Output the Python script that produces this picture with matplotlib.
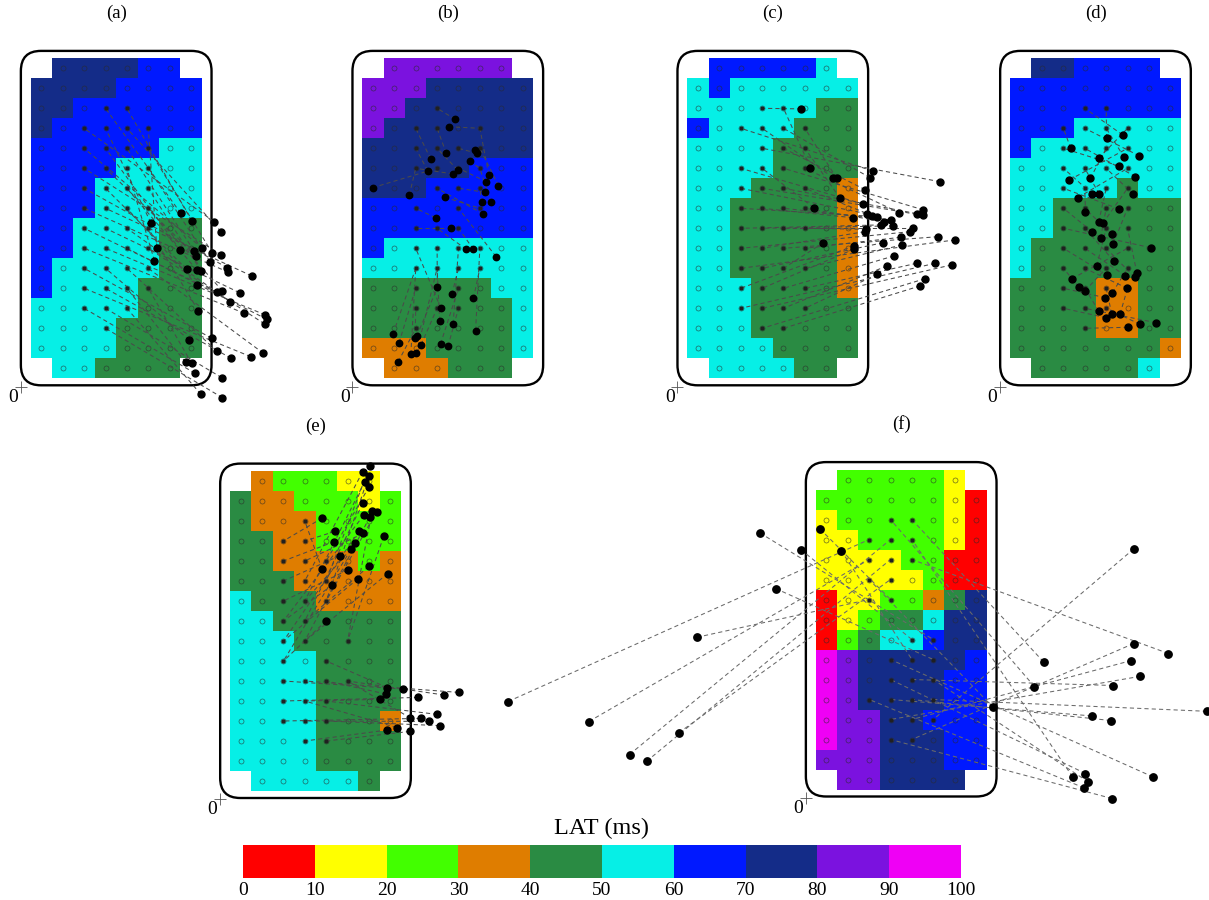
import numpy as np
import matplotlib
matplotlib.use('Agg')  # bez ekrana
import matplotlib.pyplot as plt
from matplotlib.colors import ListedColormap, BoundaryNorm
from matplotlib.patches import FancyBboxPatch
import matplotlib.cm as cm

# LAT klase (0-10, 10-20, ... 90-100 ms) i boje
lat_bounds = list(range(0, 101, 10))
lat_colors = ['#ff0000', '#ffff00', '#42ff00', '#df7d00', '#2a8b43',
              '#06efe6', '#0019ff', '#142c88', '#7b12df', '#ef00f5']

# mreze 8x16: cifra = LAT klasa, '.' = prazna celija
grid_a = [".777766.", "77776666", "77666666", "76666666", "66666655", "66665555",
          "66655555", "66655555", "66555544", "66555544", "65555544", "65555444",
          "55555444", "55554444", "55554444", ".554444."]
grid_b = [".888888.", "88877777", "88777777", "87777777", "77777777", "77777666",
          "77766666", "66666666", "66666666", "65555555", "55555555", "44444455",
          "44444445", "44444445", "33344445", ".333444."]
grid_c = [".666665.", "56555555", "55555544", "65555444", "55554444", "55554444",
          "55544443", "55444443", "55444443", "55444443", "55444443", "55544443",
          "55544444", "55544444", "55554444", ".555544."]
grid_d = [".776666.", "66666666", "66666666", "66655555", "65555555", "55555555",
          "55555455", "55444444", "55444444", "54444444", "54444444", "44443344",
          "44443344", "44443344", "44444443", ".444445."]
grid_e = [".322211.", "43322212", "43332222", "44332222", "44333323", "44433333",
          "54443333", "55444444", "55544444", "55554444", "55554444", "55554444",
          "55554443", "55554444", "55554444", ".555554."]
grid_f = [".222221.", "22222210", "12222210", "11222210", "11112200", "11111200",
          "01122347", "01244577", "02455677", "98777776", "98777766", "98777766",
          "98877666", "98877766", "88877766", ".887777."]

# elektrode (x, y u jedinicama celija) i cvorovi mreze (kolona, red) na koje se projektuju
dots_a = [(7.02, 7.75), (7.53, 8.12), (8.58, 8.17), (5.62, 8.22), (8.91, 8.67), (5.90, 9.47),
          (8.03, 9.50), (6.99, 9.58), (7.64, 9.62), (8.50, 9.75), (8.91, 9.83), (7.74, 9.88),
          (5.79, 10.12), (8.39, 10.17), (9.20, 10.47), (7.30, 10.55), (7.77, 10.58), (7.97, 10.63),
          (9.25, 10.70), (10.34, 10.88), (7.77, 11.33), (8.97, 11.63), (8.70, 11.70), (9.77, 11.72),
          (9.33, 12.17), (7.85, 12.63), (10.00, 12.75), (10.97, 12.83), (11.05, 13.05), (10.94, 13.28),
          (8.47, 14.00), (7.41, 14.08), (8.70, 14.63), (10.89, 14.75), (10.30, 14.92), (9.38, 15.00),
          (7.25, 15.20), (7.53, 15.25), (7.69, 15.75), (8.94, 15.97), (7.96, 16.80), (8.97, 16.97)]
nodes_a = [(3, 2), (4, 2), (2, 3), (3, 3), (4, 3), (5, 3), (2, 4), (3, 4), (4, 4), (5, 4),
           (2, 5), (3, 5), (4, 5), (5, 5), (2, 6), (3, 6), (4, 6), (5, 6), (2, 7), (3, 7),
           (4, 7), (5, 7), (2, 8), (3, 8), (4, 8), (5, 8), (2, 9), (3, 9), (4, 9), (5, 9),
           (2, 10), (3, 10), (4, 10), (5, 10), (2, 11), (3, 11), (4, 11), (5, 11), (2, 12), (3, 12),
           (4, 12), (3, 13)]

dots_b = [(4.35, 3.05), (4.04, 3.42), (0.48, 6.47), (3.20, 5.03), (3.06, 5.62), (3.93, 4.75),
          (4.46, 5.58), (4.24, 5.78), (5.25, 4.58), (5.36, 4.75), (5.02, 5.13), (5.92, 5.82),
          (5.81, 6.17), (6.37, 6.37), (5.75, 6.70), (5.59, 7.20), (6.02, 7.20), (5.65, 7.78),
          (2.20, 6.83), (3.87, 6.95), (3.43, 7.97), (4.16, 8.50), (4.86, 9.55), (5.20, 9.55),
          (6.26, 9.92), (3.51, 11.43), (4.19, 11.80), (5.20, 12.00), (3.68, 12.50), (3.62, 13.13),
          (4.25, 13.28), (5.30, 13.62), (1.44, 13.78), (1.72, 14.22), (2.47, 13.97), (2.55, 13.88),
          (2.75, 14.32), (2.27, 14.80), (2.53, 14.75), (3.66, 14.28), (4.01, 14.40), (1.68, 15.17)]
nodes_b = [(3, 2), (5, 3), (3, 5), (2, 3), (2, 4), (3, 3), (3, 4), (2, 5), (5, 4), (4, 4),
           (5, 5), (5, 3), (4, 5), (5, 4), (4, 6), (5, 6), (5, 5), (3, 6), (2, 5), (5, 7),
           (2, 7), (2, 8), (3, 8), (4, 8), (4, 7), (3, 9), (4, 10), (5, 10), (2, 9), (3, 10),
           (4, 9), (5, 9), (2, 10), (2, 11), (2, 12), (3, 11), (3, 12), (2, 10), (3, 10), (4, 11),
           (4, 12), (2, 13)]

dots_c = [(5.34, 2.53), (5.76, 5.47), (8.67, 5.63), (6.83, 5.97), (8.55, 5.97), (6.99, 6.00),
          (11.83, 6.17), (8.32, 6.57), (7.15, 7.00), (8.21, 7.28), (5.91, 7.47), (11.05, 7.58),
          (9.92, 7.72), (8.39, 7.77), (10.73, 7.80), (11.05, 7.83), (8.66, 7.87), (8.89, 7.92),
          (7.74, 7.97), (9.53, 8.08), (9.22, 8.17), (9.06, 8.33), (9.64, 8.38), (10.58, 8.50),
          (8.36, 8.55), (10.42, 8.67), (8.30, 8.67), (11.72, 8.92), (9.98, 8.95), (12.53, 9.08),
          (9.16, 9.22), (6.37, 9.22), (10.05, 9.33), (7.82, 9.37), (7.82, 9.53), (9.67, 9.88),
          (10.73, 10.25), (11.59, 10.25), (12.37, 10.33), (9.34, 10.38), (8.89, 10.80),
          (11.12, 11.02), (10.89, 11.38)]
nodes_c = [(3, 2), (4, 2), (2, 3), (3, 3), (4, 3), (5, 3), (3, 4), (4, 4), (5, 4), (2, 5),
           (3, 5), (4, 5), (5, 5), (2, 6), (3, 6), (4, 6), (5, 6), (2, 7), (3, 7), (4, 7),
           (5, 7), (2, 8), (3, 8), (4, 8), (5, 8), (2, 9), (3, 9), (4, 9), (5, 9), (2, 10),
           (3, 10), (4, 10), (5, 10), (2, 11), (3, 11), (4, 11), (5, 11), (2, 12), (3, 12),
           (4, 12), (5, 12), (3, 13), (4, 13)]

dots_d = [(5.27, 3.83), (4.52, 4.00), (2.84, 4.50), (6.05, 4.88), (5.34, 4.95), (4.15, 5.00),
          (5.09, 5.38), (5.87, 5.92), (3.76, 6.00), (2.78, 6.08), (3.84, 6.78), (4.17, 6.78),
          (5.77, 6.80), (3.17, 6.97), (5.09, 7.53), (3.53, 7.70), (4.15, 8.18), (4.34, 8.25),
          (3.84, 8.67), (4.76, 8.80), (4.24, 8.98), (4.82, 9.30), (6.58, 9.47), (4.85, 10.12),
          (4.06, 10.37), (5.94, 10.75), (4.56, 10.85), (5.40, 10.87), (5.83, 10.95), (2.90, 11.02),
          (3.21, 11.42), (5.49, 11.50), (3.51, 11.62), (4.79, 11.72), (4.46, 11.97), (4.15, 12.63),
          (4.76, 12.78), (5.15, 12.78), (4.49, 12.97), (6.83, 13.22), (6.08, 13.30), (5.51, 13.45)]
nodes_d = nodes_a

dots_e = [(6.55, -0.27), (6.21, 0.03), (6.49, 0.25), (6.30, 0.53), (6.51, 0.78), (6.21, 1.62),
          (6.65, 1.98), (6.86, 2.03), (6.26, 2.20), (6.54, 2.30), (4.32, 2.35), (4.91, 3.02),
          (6.04, 3.00), (6.24, 3.12), (7.19, 3.27), (4.88, 3.53), (5.83, 3.62), (5.66, 3.90),
          (5.15, 4.23), (4.31, 4.92), (5.51, 4.95), (6.49, 4.77), (7.38, 5.13), (5.99, 5.38),
          (4.79, 5.70), (4.51, 7.48),
          (7.36, 10.83), (8.08, 10.90), (10.70, 11.07), (7.30, 11.15), (10.02, 11.20), (8.80, 11.32),
          (7.04, 11.42), (9.70, 12.17), (8.44, 12.35), (8.92, 12.37), (9.33, 12.52), (9.81, 12.73),
          (7.80, 12.83), (7.36, 12.95), (8.42, 13.02)]
nodes_e = [(4, 5), (3, 5), (4, 6), (3, 6), (4, 4), (3, 7), (5, 8), (4, 6), (2, 7), (3, 8),
           (2, 3), (3, 3), (2, 8), (3, 4), (5, 8), (2, 4), (2, 9), (3, 6), (2, 5), (3, 2),
           (2, 6), (3, 7), (3, 8), (2, 8), (2, 7), (2, 9),
           (4, 9), (2, 10), (3, 10), (4, 10), (5, 10), (2, 11), (3, 11), (4, 11), (5, 10), (2, 12),
           (3, 12), (4, 12), (3, 11), (3, 13), (4, 13)]

dots_f = [(-2.61, 3.17), (-0.70, 4.00), (-1.88, 5.95), (0.20, 2.97), (1.19, 4.05), (-5.56, 8.39),
          (-14.39, 11.60), (-10.61, 12.60), (-8.71, 14.25), (-7.91, 14.59), (-6.41, 13.17),
          (14.88, 3.97), (14.88, 8.70), (16.50, 9.20), (14.77, 9.55), (15.19, 10.34), (13.91, 10.80),
          (10.66, 9.62), (10.23, 10.85), (8.30, 11.89), (18.30, 12.09), (12.91, 12.32), (13.80, 12.55),
          (15.78, 15.37), (12.02, 15.37), (12.62, 15.20), (12.75, 15.62), (12.56, 15.92), (13.86, 16.45)]
nodes_f = [(5, 8), (4, 8), (5, 9), (3, 6), (4, 9), (2, 6), (2, 3), (2, 4), (3, 3), (3, 4),
           (3, 5), (5, 12), (4, 13), (4, 4), (4, 12), (3, 12), (4, 10), (4, 2), (3, 2), (2, 5),
           (5, 11), (3, 11), (4, 11), (3, 9), (4, 3), (3, 10), (5, 10), (2, 11), (3, 13)]

W, H = 1209, 900
plt.rcParams['font.family'] = ['Liberation Serif', 'DejaVu Serif']
fig = plt.figure(figsize=(W / 100, H / 100), dpi=100)

cmap = ListedColormap(lat_colors)
norm = BoundaryNorm(lat_bounds, cmap.N)


def draw_panel(x0, y0, label, rows, dots, nodes, dot_ms, line_color):
    # x0, y0 = gornji levi ugao mreze u pikselima
    ax = fig.add_axes([x0 / W, 1 - (y0 + 320) / H, 171 / W, 320 / H])
    ax.set_xlim(0, 8)
    ax.set_ylim(16, 0)
    ax.axis('off')

    z = np.array([[np.nan if ch == '.' else int(ch) * 10 + 5 for ch in r] for r in rows])
    ax.pcolormesh(np.arange(9), np.arange(17), np.ma.masked_invalid(z),
                  cmap=cmap, norm=norm, zorder=1)
    rr, cc = np.where(~np.isnan(z))
    ax.plot(cc + 0.5, rr + 0.5, 'o', ms=3.6, mfc='none', mec='#2a2a2a', mew=0.5,
            alpha=0.7, zorder=3)

    ax.add_patch(FancyBboxPatch((-0.46, -0.37), 8.92, 16.72,
                                boxstyle='round,pad=0,rounding_size=0.94', mutation_aspect=1.07,
                                fill=False, ec='black', lw=1.7, zorder=2, clip_on=False))

    for (dx, dy), (c, r) in zip(dots, nodes):
        ax.plot([dx, c + 0.5], [dy, r + 0.5], ls=(0, (4, 3)), color=line_color, lw=0.75,
                zorder=4, clip_on=False)
    nx = [c + 0.5 for c, r in set(nodes)]
    ny = [r + 0.5 for c, r in set(nodes)]
    ax.plot(nx, ny, 'o', ms=2.0, color='#202020', zorder=5)
    ax.plot([d[0] for d in dots], [d[1] for d in dots], 'o', ms=dot_ms, color='black',
            zorder=6, clip_on=False)

    ax.plot(-0.46, 16.42, '+', ms=8, mew=0.6, color='#555555', clip_on=False)
    ax.text(-0.82, 16.95, '0', ha='center', va='center', fontsize=14, clip_on=False)
    ax.text(4, -2.25, label, ha='center', va='center', fontsize=13.5, clip_on=False)
    return ax


draw_panel(30.7, 58.3, '(a)', grid_a, dots_a, nodes_a, 5.0, '#4a4a4a')
draw_panel(362.3, 58.3, '(b)', grid_b, dots_b, nodes_b, 4.6, '#4a4a4a')
draw_panel(687.3, 58.3, '(c)', grid_c, dots_c, nodes_c, 5.0, '#4a4a4a')
draw_panel(1010, 58.3, '(d)', grid_d, dots_d, nodes_d, 5.0, '#4a4a4a')
draw_panel(230, 471, '(e)', grid_e, dots_e, nodes_e, 5.0, '#4a4a4a')
draw_panel(815.7, 469.5, '(f)', grid_f, dots_f, nodes_f, 5.3, '#6a6a6a')

# skala boja
cax = fig.add_axes([243 / W, 1 - 878 / H, 718 / W, 33 / H])
cb = fig.colorbar(cm.ScalarMappable(norm=norm, cmap=cmap), cax=cax,
                  orientation='horizontal', ticks=lat_bounds)
cb.outline.set_visible(False)
cax.tick_params(length=0, labelsize=14, pad=3)
fig.text(602 / W, 1 - 828 / H, 'LAT (ms)', ha='center', va='center', fontsize=17.5)

fig.savefig('out.png', dpi=100)
